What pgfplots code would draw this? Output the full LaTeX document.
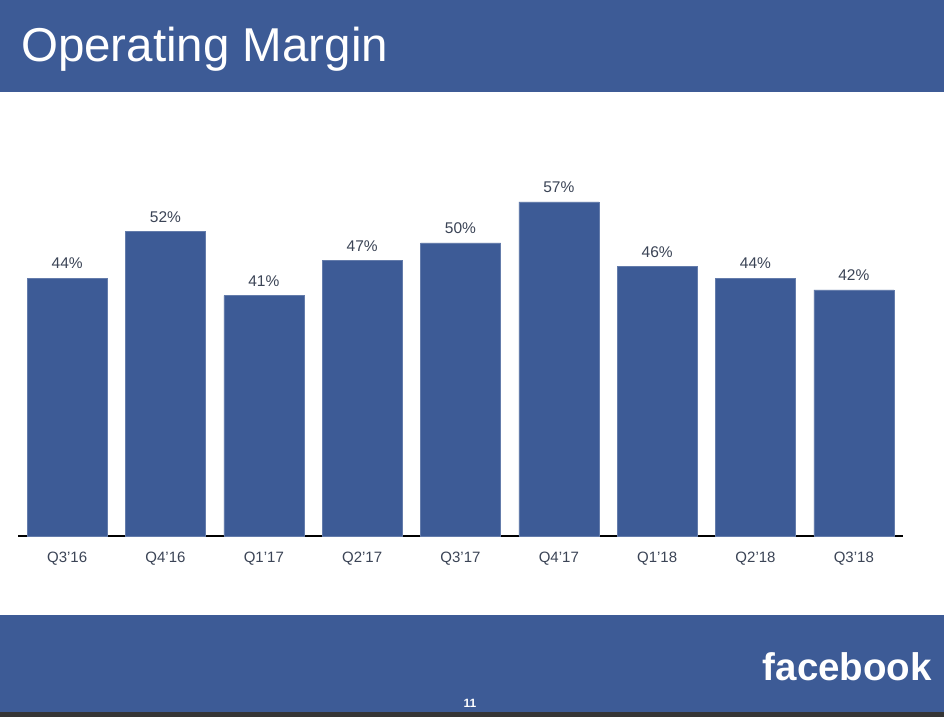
\documentclass[border=0pt]{standalone}
\usepackage{pgfplots}
\pgfplotsset{compat=1.18}
\usepackage{fontspec}
\setmainfont{Liberation Sans}
\definecolor{fbblue}{HTML}{3D5B96}
\definecolor{lbl}{HTML}{3B4456}
\definecolor{dark}{HTML}{353535}
\begin{document}
\begin{tikzpicture}[x=1pt,y=1pt]
\fill[white] (0,0) rectangle (944,717);
\fill[fbblue] (0,625) rectangle (944,717);
\fill[fbblue] (0,5) rectangle (944,102);
\fill[dark] (0,0) rectangle (944,5);
\node[anchor=base west, text=white, font=\fontsize{47.5}{55}\selectfont, inner sep=0pt] at (21,655) {Operating Margin};
\node[anchor=base east, text=white, font=\fontsize{38.5}{45}\selectfont\bfseries, inner sep=0pt] at (932,37) {facebook};
\node[text=white, font=\fontsize{12}{14}\selectfont\bfseries, inner sep=0pt] at (470,14) {11};
\begin{axis}[
  at={(18pt,181pt)}, anchor=south west,
  scale only axis, width=885pt, height=351.6pt,
  xmin=-0.5, xmax=8.5, ymin=0, ymax=60,
  axis x line*=bottom, axis y line=none,
  x axis line style={black, line width=1.2pt, -},
  xtick=data,
  xticklabels={Q3'16,Q4'16,Q1'17,Q2'17,Q3'17,Q4'17,Q1'18,Q2'18,Q3'18},
  major tick length=0pt,
  xticklabel style={font=\fontsize{15}{17}\selectfont, text=lbl, yshift=-12pt},
  /pgf/number format/assume math mode=true,
  ybar, bar width=80pt,
  clip=false,
  nodes near coords={\pgfmathprintnumber{\pgfplotspointmeta}\%},
  nodes near coords style={font=\fontsize{15.5}{17}\selectfont, text=lbl, anchor=south, yshift=5.5pt},
]
\addplot[fill=fbblue, draw=fbblue!80!white, line width=0.5pt] coordinates {
(0,44) (1,52) (2,41) (3,47) (4,50) (5,57) (6,46) (7,44) (8,42)};
\end{axis}
\end{tikzpicture}
\end{document}
